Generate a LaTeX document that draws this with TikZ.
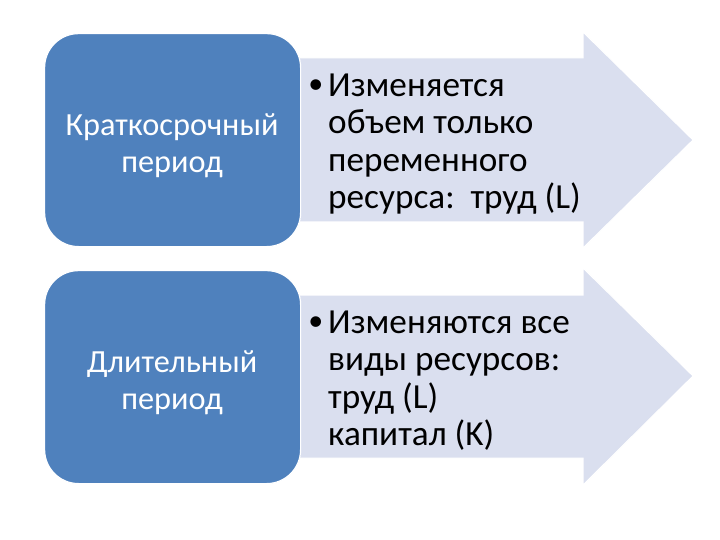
\documentclass[tikz,border=0pt]{standalone}
\usepackage{fontspec}
\setmainfont{Carlito}
\definecolor{boxblue}{RGB}{79,129,189}
\definecolor{arrowfill}{RGB}{218,223,239}
\begin{document}
\begin{tikzpicture}[x=1pt,y=-1pt,
  period/.style={draw=white, line width=1.2pt, fill=boxblue, rounded corners=34pt},
  arrowshape/.style={draw=white, line width=1pt, fill=arrowfill},
  lefttext/.style={text=white, align=center, inner sep=0pt, anchor=north,
    font=\fontsize{32.3}{37}\selectfont},
  righttext/.style={text=black, align=left, inner sep=0pt, anchor=north west,
    font=\fontsize{35.2}{37.5}\selectfont}]
\useasboundingbox (0,0) rectangle (720,540);
% arrows
\draw[arrowshape] (296,58) -- (583,58) -- (583,32) -- (693,140) -- (583,248) -- (583,222) -- (296,222) -- cycle;
\draw[arrowshape] (296,295) -- (583,295) -- (583,268) -- (693,376) -- (583,485) -- (583,458) -- (296,458) -- cycle;
% blue boxes
\node[period, minimum width=256pt, minimum height=213pt, anchor=north west] (short) at (44,33) {};
\node[period, minimum width=256pt, minimum height=213pt, anchor=north west] (long) at (44,270) {};
% left labels
\node[lefttext] (shortlbl) at (172,135-25) {\rule{0pt}{25pt}Краткосрочный\\период};
\node[lefttext] (longlbl) at (172,372-25) {\rule{0pt}{25pt}Длительный\\период};
% right texts
\node[righttext] (shorttxt) at (328,96-25) {\rule{0pt}{25pt}\llap{\raisebox{3pt}{\fontsize{30}{30}\selectfont•}\hspace{5pt}}Изменяется\\объем только\\переменного\\ресурса:\ \ труд (L)};
\node[righttext] (longtxt) at (328,333-25) {\rule{0pt}{25pt}\llap{\raisebox{3pt}{\fontsize{30}{30}\selectfont•}\hspace{5pt}}Изменяются все\\виды ресурсов:\\труд (L)\\капитал (K)};
\end{tikzpicture}
\end{document}
